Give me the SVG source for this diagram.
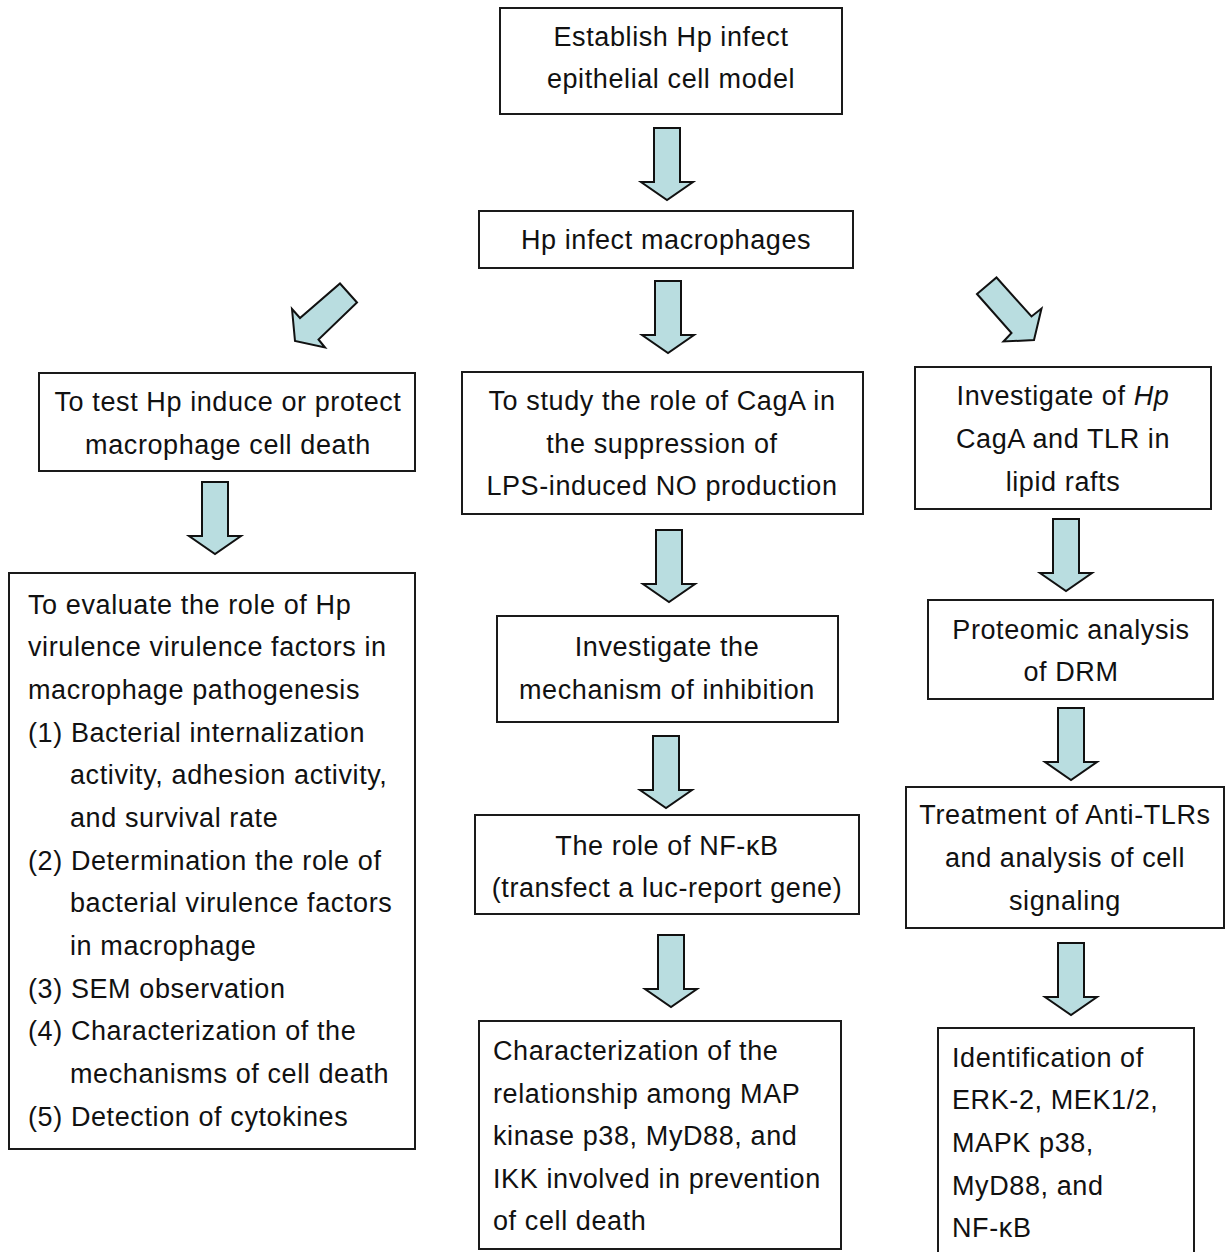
<svg xmlns="http://www.w3.org/2000/svg" width="1225" height="1252" viewBox="0 0 1225 1252">
<style>
.box{fill:#fff;stroke:#1a1a1a;stroke-width:2}
.t{font-family:"Liberation Sans",Arial,sans-serif;font-size:27px;letter-spacing:0.6px;fill:#111}
.c{text-anchor:middle}
.arr{fill:#b9dde0;stroke:#111;stroke-width:2;stroke-linejoin:miter}
</style>
<defs>
<path id="down" d="M-13,0 L13,0 L13,54 L26,54 L0,72 L-26,54 L-13,54 Z"/>
</defs>
<rect width="1225" height="1252" fill="#fff"/>
<g id="connectors">
<use href="#down" class="arr" transform="translate(667,128)"/>
<use href="#down" class="arr" transform="translate(668,281)"/>
<polygon class="arr" points="340,283.5 357,302.5 318.5,339.5 325,347.5 295,341 292,309 300,318"/>
<polygon class="arr" points="977,294 996.5,277.5 1031.5,316.5 1041.5,308.5 1034,340 1003.5,341.5 1011.5,333"/>
<use href="#down" class="arr" transform="translate(215,482)"/>
<use href="#down" class="arr" transform="translate(669,530)"/>
<use href="#down" class="arr" transform="translate(666,736)"/>
<use href="#down" class="arr" transform="translate(671,935)"/>
<use href="#down" class="arr" transform="translate(1066,519)"/>
<use href="#down" class="arr" transform="translate(1071,708)"/>
<use href="#down" class="arr" transform="translate(1071,943)"/>
</g>
<g id="n1">
<rect class="box" x="500" y="8" width="342" height="106"/>
<text class="t c" x="671" y="46">Establish Hp infect</text>
<text class="t c" x="671" y="88">epithelial cell model</text>
</g>
<g id="n2">
<rect class="box" x="479" y="211" width="374" height="57"/>
<text class="t c" x="666" y="249">Hp infect macrophages</text>
</g>
<g id="n3">
<rect class="box" x="39" y="373" width="376" height="98"/>
<text class="t c" x="228" y="411">To test Hp induce or protect</text>
<text class="t c" x="228" y="454">macrophage cell death</text>
</g>
<g id="n4">
<rect class="box" x="462" y="372" width="401" height="142"/>
<text class="t c" x="662" y="410">To study the role of CagA in</text>
<text class="t c" x="662" y="453">the suppression of</text>
<text class="t c" x="662" y="495">LPS-induced NO production</text>
</g>
<g id="n5">
<rect class="box" x="915" y="367" width="296" height="142"/>
<text class="t c" x="1063" y="405">Investigate of <tspan font-style="italic">Hp</tspan></text>
<text class="t c" x="1063" y="448">CagA and TLR in</text>
<text class="t c" x="1063" y="491">lipid rafts</text>
</g>
<g id="n6">
<rect class="box" x="9" y="573" width="406" height="576"/>
<text class="t" x="28" y="614">To evaluate the role of Hp</text>
<text class="t" x="28" y="656">virulence virulence factors in</text>
<text class="t" x="28" y="699">macrophage pathogenesis</text>
<text class="t" x="28" y="742">(1) Bacterial internalization</text>
<text class="t" x="70" y="784">activity, adhesion activity,</text>
<text class="t" x="70" y="827">and survival rate</text>
<text class="t" x="28" y="870">(2) Determination the role of</text>
<text class="t" x="70" y="912">bacterial virulence factors</text>
<text class="t" x="70" y="955">in macrophage</text>
<text class="t" x="28" y="998">(3) SEM observation</text>
<text class="t" x="28" y="1040">(4) Characterization of the</text>
<text class="t" x="70" y="1083">mechanisms of cell death</text>
<text class="t" x="28" y="1126">(5) Detection of cytokines</text>
</g>
<g id="n7">
<rect class="box" x="497" y="616" width="341" height="106"/>
<text class="t c" x="667" y="656">Investigate the</text>
<text class="t c" x="667" y="699">mechanism of inhibition</text>
</g>
<g id="n8">
<rect class="box" x="475" y="815" width="384" height="99"/>
<text class="t c" x="667" y="855">The role of NF-κB</text>
<text class="t c" x="667" y="897">(transfect a luc-report gene)</text>
</g>
<g id="n9">
<rect class="box" x="479" y="1021" width="362" height="228"/>
<text class="t" x="493" y="1060">Characterization of the</text>
<text class="t" x="493" y="1103">relationship among MAP</text>
<text class="t" x="493" y="1145">kinase p38, MyD88, and</text>
<text class="t" x="493" y="1188">IKK involved in prevention</text>
<text class="t" x="493" y="1230">of cell death</text>
</g>
<g id="n10">
<rect class="box" x="928" y="600" width="285" height="99"/>
<text class="t c" x="1071" y="639">Proteomic analysis</text>
<text class="t c" x="1071" y="681">of DRM</text>
</g>
<g id="n11">
<rect class="box" x="906" y="787" width="318" height="141"/>
<text class="t c" x="1065" y="824">Treatment of Anti-TLRs</text>
<text class="t c" x="1065" y="867">and analysis of cell</text>
<text class="t c" x="1065" y="910">signaling</text>
</g>
<g id="n12">
<path class="box" d="M938,1256 L938,1028 L1194,1028 L1194,1256"/>
<text class="t" x="952" y="1067">Identification of</text>
<text class="t" x="952" y="1109">ERK-2, MEK1/2,</text>
<text class="t" x="952" y="1152">MAPK p38,</text>
<text class="t" x="952" y="1195">MyD88, and</text>
<text class="t" x="952" y="1237">NF-κB</text>
</g>
</svg>
